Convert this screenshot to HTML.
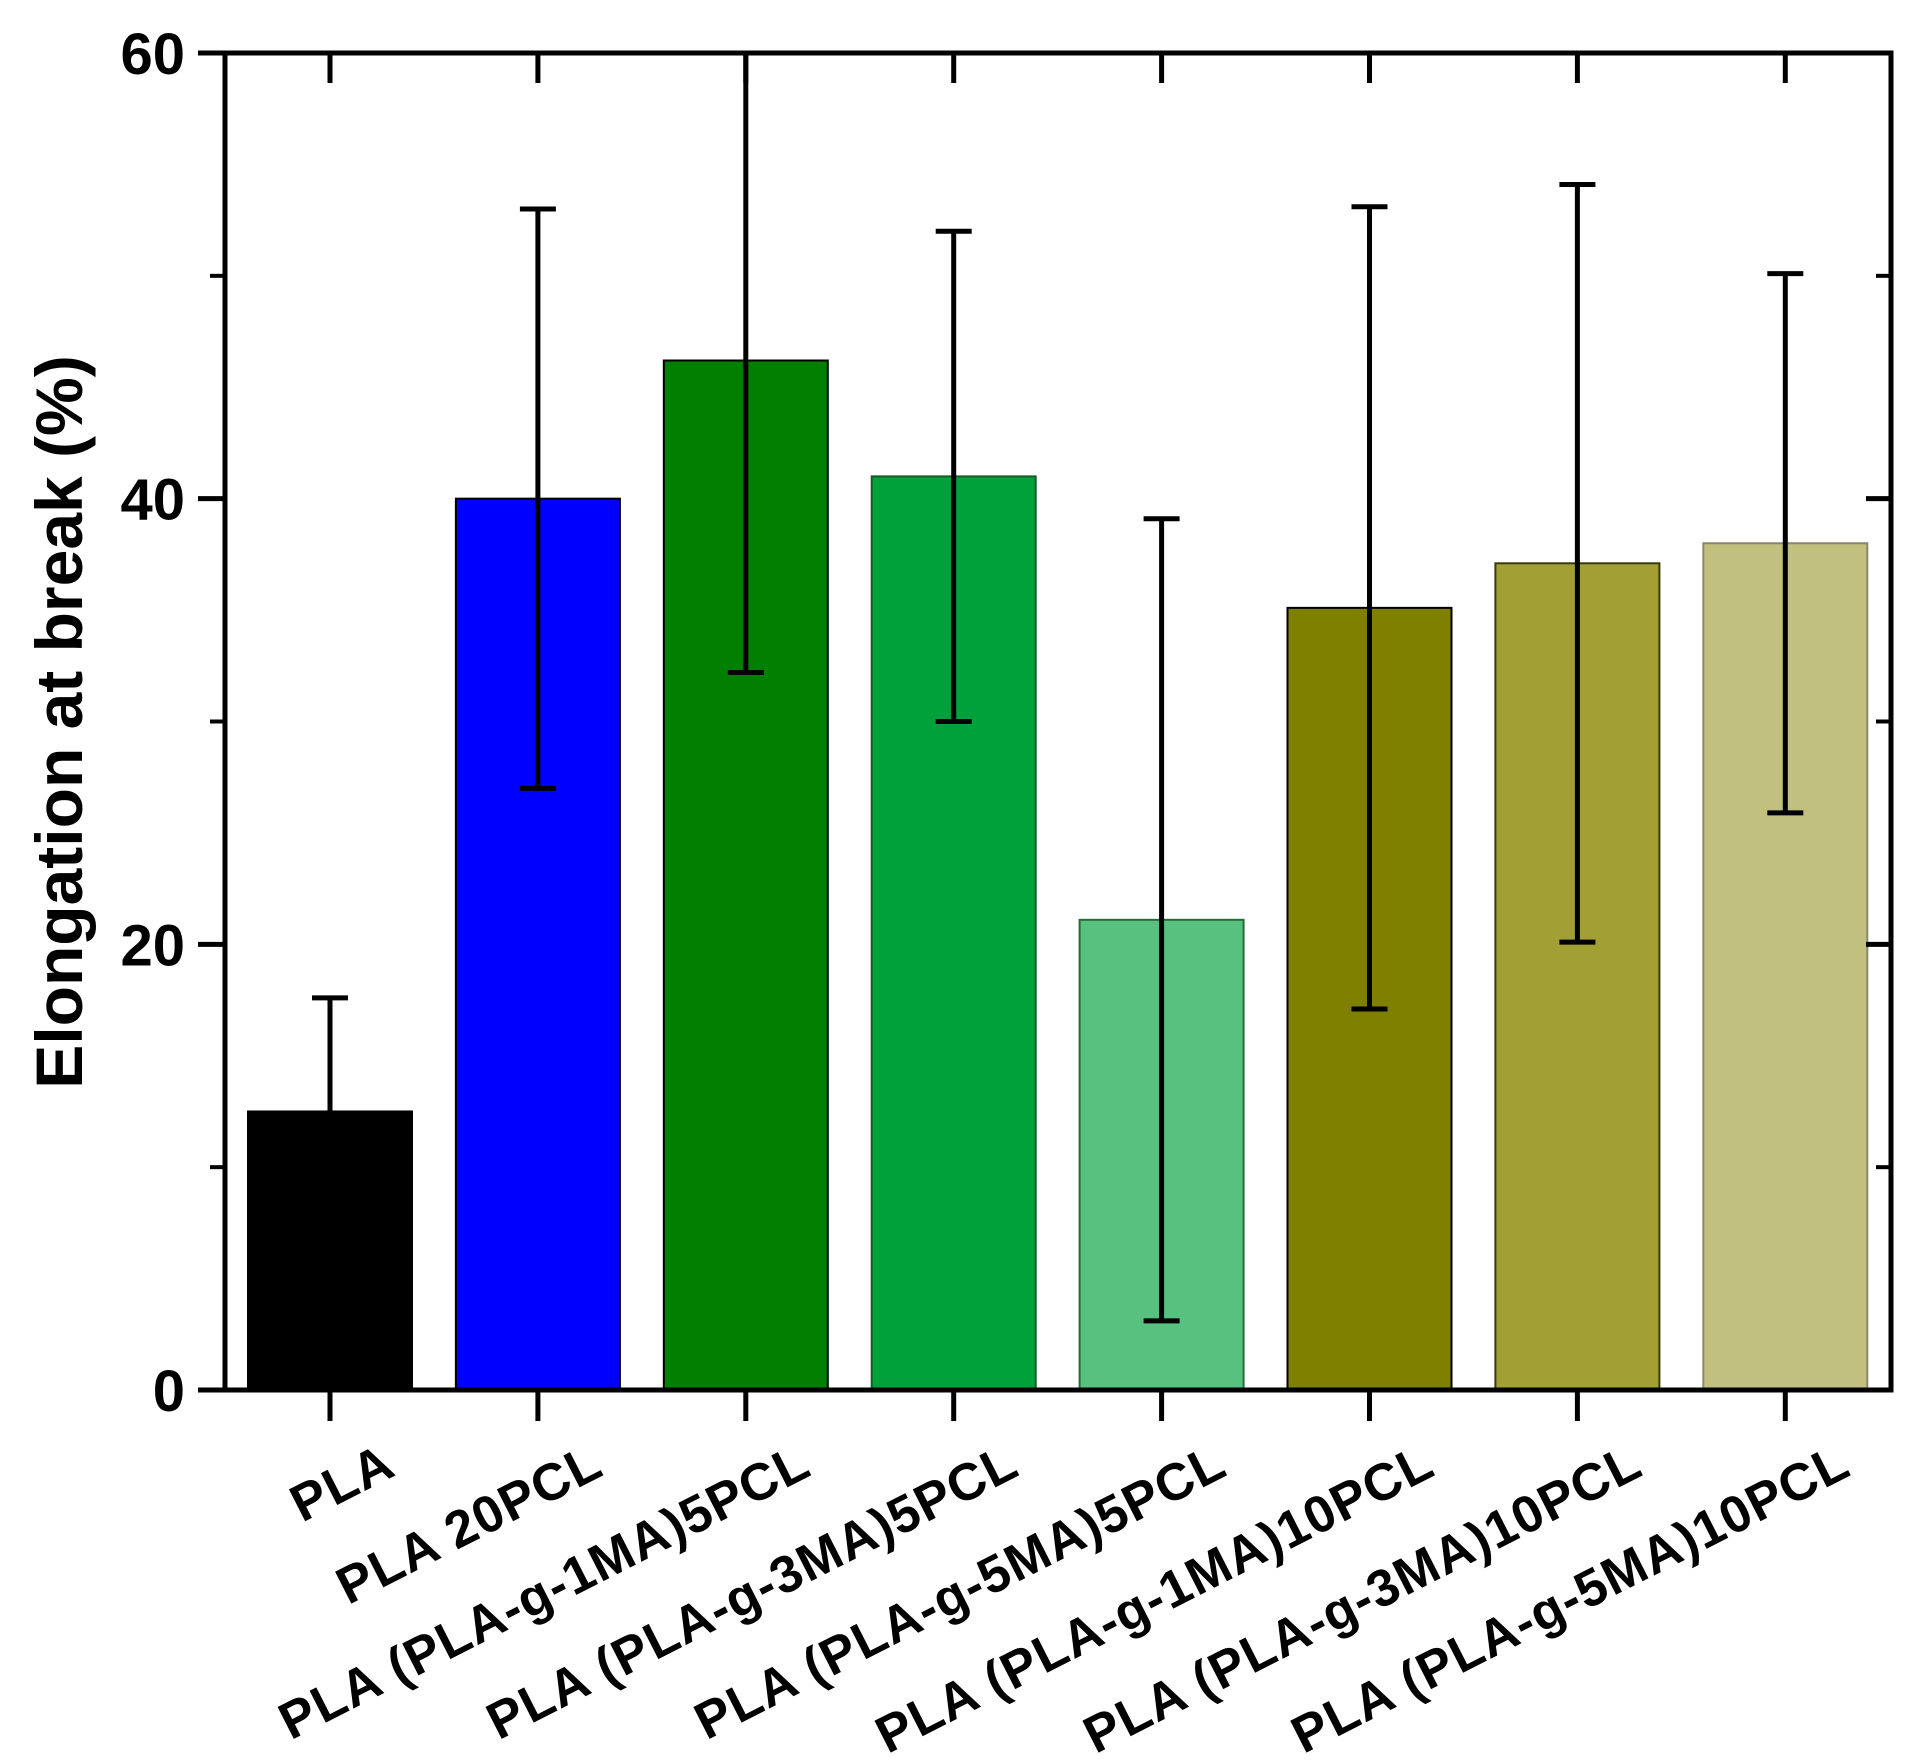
<!DOCTYPE html>
<html><head><meta charset="utf-8"><style>
html,body{margin:0;padding:0;background:#fff;}
svg{display:block;font-family:"Liberation Sans",Arial,sans-serif;}
</style></head><body>
<svg id="chart" width="1917" height="1760" viewBox="0 0 1917 1760">
<g id="bars"></g>
<g id="errs"></g>
<g id="axes"></g>
<g id="xlabels"></g>
<text x="0" y="0" transform="translate(82,722) rotate(-90)" text-anchor="middle" font-size="66" font-weight="bold">Elongation at break (%)</text>
</svg>
<script>
const categories = ["PLA","PLA 20PCL","PLA (PLA-g-1MA)5PCL","PLA (PLA-g-3MA)5PCL","PLA (PLA-g-5MA)5PCL","PLA (PLA-g-1MA)10PCL","PLA (PLA-g-3MA)10PCL","PLA (PLA-g-5MA)10PCL"];
const values = [12.5, 40.0, 46.2, 41.0, 21.1, 35.1, 37.1, 38.0];
const errors = [5.1, 13.0, 14.0, 11.0, 18.0, 18.0, 17.0, 12.1];
const colors = ["#000000","#0000ff","#007f00","#00a03a","#57c27f","#808000","#a2a035","#c2c07e"];
const strokes = ["#000000","#000000","#000000","#1a5a2a","#2a6a3a","#000000","#3a3a10","#888870"];
const yTicks = [0,20,40,60];
const yMinor = [10,30,50];

const NS="http://www.w3.org/2000/svg";
const L=225,R=1891,T=53,B=1390,yMax=60;
const y=v=>B-(v/yMax)*(B-T);
const x0=330,step=207.9,bw=164;
const xc=i=>x0+i*step;
function mk(tag,attrs,parent){const e=document.createElementNS(NS,tag);for(const k in attrs)e.setAttribute(k,attrs[k]);parent.appendChild(e);return e;}
const gb=document.getElementById('bars'),ge=document.getElementById('errs'),ga=document.getElementById('axes'),gx=document.getElementById('xlabels');
categories.forEach((c,i)=>{
  const r=mk('rect',{x:xc(i)-bw/2,y:y(values[i]),width:bw,height:B-y(values[i]),fill:colors[i],stroke:strokes[i],'stroke-width':2},gb);
  
  
  const top=Math.min(values[i]+errors[i],yMax), bot=values[i]-errors[i];
  const eg=mk('g',{stroke:'#000','stroke-width':5},ge);
  
  
  mk('line',{x1:xc(i),x2:xc(i),y1:y(top),y2:y(bot)},eg);
  if(values[i]+errors[i]<=yMax) mk('line',{x1:xc(i)-18,x2:xc(i)+18,y1:y(top),y2:y(top)},eg);
  mk('line',{x1:xc(i)-18,x2:xc(i)+18,y1:y(bot),y2:y(bot)},eg);
  mk('line',{x1:xc(i),x2:xc(i),y1:B,y2:B+31,stroke:'#000','stroke-width':5},ga);
  mk('line',{x1:xc(i),x2:xc(i),y1:T,y2:T+30,stroke:'#000','stroke-width':5},ga);
  const t=mk('text',{x:0,y:0,transform:`translate(${xc(i)+68},${1474}) rotate(-27)`,'text-anchor':'end','font-size':52,'font-weight':'bold','letter-spacing':1.2},gx);
  t.textContent=c;
  
  
});
mk('rect',{x:L,y:T,width:R-L,height:B-T,fill:'none',stroke:'#000','stroke-width':5},ga);
yTicks.forEach(v=>{
  mk('line',{x1:L-27,x2:L,y1:y(v),y2:y(v),stroke:'#000','stroke-width':5},ga);
  mk('line',{x1:R-25,x2:R,y1:y(v),y2:y(v),stroke:'#000','stroke-width':5},ga);
  const t=mk('text',{x:185,y:y(v)+21,'text-anchor':'end','font-size':58,'font-weight':'bold'},ga);
  t.textContent=v;
  
  
});
yMinor.forEach(v=>{
  mk('line',{x1:L-15,x2:L,y1:y(v),y2:y(v),stroke:'#000','stroke-width':4},ga);
  mk('line',{x1:R-15,x2:R,y1:y(v),y2:y(v),stroke:'#000','stroke-width':4},ga);
});
</script>
</body></html>
